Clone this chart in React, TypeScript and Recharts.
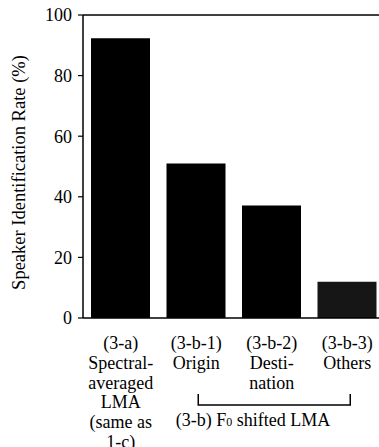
import React from "react";
import { BarChart, Bar, XAxis, YAxis, Cell, ReferenceLine } from "recharts";

const categories = ["(3-a)", "(3-b-1)", "(3-b-2)", "(3-b-3)"];
const rates = [92.3, 51.0, 37.1, 12.0];
const labelLines = [
  ["(3-a)", "Spectral-", "averaged", "LMA", "(same as", "1-c)"],
  ["(3-b-1)", "Origin"],
  ["(3-b-2)", "Desti-", "nation"],
  ["(3-b-3)", "Others"],
];
const barColors = ["#000000", "#000000", "#000000", "#161616"];
const yTicks = [0, 20, 40, 60, 80, 100];

const FONT = "Liberation Serif, Times New Roman, DejaVu Serif, serif";

const data = categories.map((c, i) => ({ name: c, rate: rates[i] }));

function CategoryTick(props: any) {
  const { x, y, payload, index } = props;
  const lines = labelLines[payload.index ?? index] || [payload.value];
  const band = 75.5;
  return (
    <g>
      <text textAnchor="middle" style={{ fontFamily: FONT, fontSize: 18 }} fill="#000">
        {lines.map((l, i) => (
          <tspan key={i} x={x} y={y + 31 + i * 19.8}>
            {l}
          </tspan>
        ))}
      </text>
      {index === 2 && (
        <g>
          <path
            d={`M${x - band + 2},${y + 76} L${x - band + 2},${y + 87} L${x + band + 3},${y + 87} L${x + band + 3},${y + 76}`}
            fill="none"
            stroke="#000"
            strokeWidth={1.5}
          />
          <text x={x - 96} y={y + 108} style={{ fontFamily: FONT, fontSize: 18 }} fill="#000">
            (3-b)  F<tspan style={{ fontSize: 12 }}>0</tspan> shifted LMA
          </text>
        </g>
      )}
    </g>
  );
}

export default function App() {
  return (
    <div
      style={{
        position: "absolute",
        left: 0,
        top: 0,
        width: 379,
        height: 447,
        overflow: "hidden",
        background: "#fff",
        fontFamily: FONT,
      }}
    >
      <BarChart
        width={385}
        height={447}
        data={data}
        margin={{ top: 15, right: 0, left: 0, bottom: 0 }}
        style={{ fontFamily: FONT }}
      >
        <ReferenceLine y={100} stroke="#000" strokeWidth={1.5} />
        <XAxis
          dataKey="name"
          height={129}
          tickSize={0}
          tickMargin={0}
          interval={0}
          axisLine={{ stroke: "#000", strokeWidth: 1.5 }}
          tick={<CategoryTick />}
        />
        <YAxis
          width={83}
          domain={[0, 100]}
          ticks={yTicks}
          tickSize={5}
          tickMargin={6}
          axisLine={{ stroke: "#000", strokeWidth: 1.5 }}
          tickLine={{ stroke: "#000", strokeWidth: 1.2 }}
          tick={{ fill: "#000", fontSize: 18, style: { fontFamily: FONT } }}
          label={{
            content: (p: any) => {
              const vb = p.viewBox || { x: 0, y: 15, width: 83, height: 303 };
              const cx = vb.x + 19;
              const cy = vb.y + vb.height / 2 + 6;
              return (
                <text
                  x={cx}
                  y={cy}
                  transform={`rotate(-90, ${cx}, ${cy})`}
                  textAnchor="middle"
                  dominantBaseline="central"
                  style={{ fontFamily: FONT, fontSize: 18.5 }}
                  fill="#000"
                >
                  Speaker Identification Rate (%)
                </text>
              );
            },
          }}
        />
        <Bar dataKey="rate" barSize={59} isAnimationActive={false}>
          {data.map((d, i) => (
            <Cell key={d.name} fill={barColors[i]} />
          ))}
        </Bar>
      </BarChart>
    </div>
  );
}
